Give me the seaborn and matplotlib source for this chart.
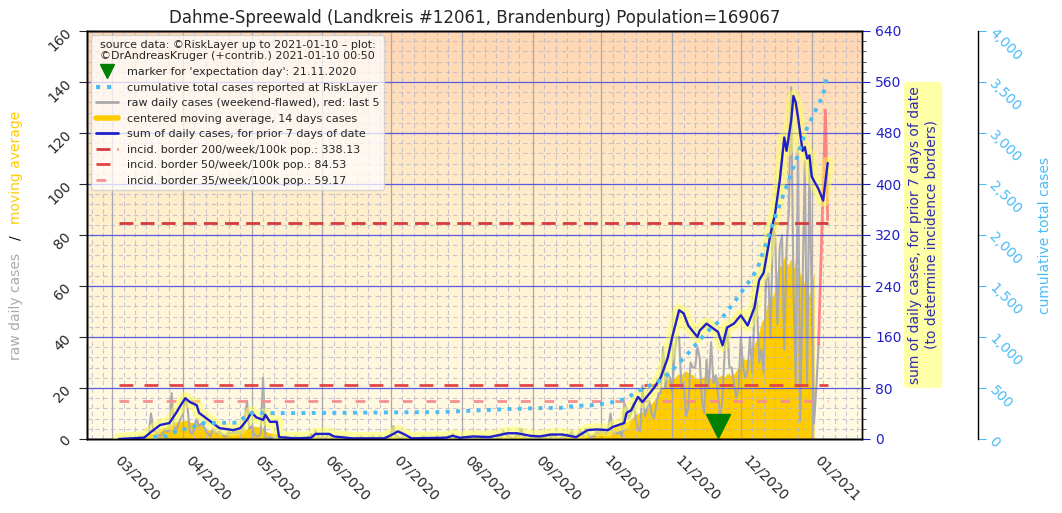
import numpy as np
import pandas as pd
import matplotlib
matplotlib.use("Agg")
import matplotlib.pyplot as plt
import matplotlib.dates as mdates
import matplotlib.ticker as mticker
import matplotlib.patheffects as pe
from matplotlib.lines import Line2D
from matplotlib.colors import LinearSegmentedColormap
import seaborn as sns

sns.set_style("white")
plt.rcParams['font.family'] = ['DejaVu Sans']

# ---------------- data ----------------
TITLE = "Dahme-Spreewald (Landkreis #12061, Brandenburg) Population=169067"
LEGEND_TITLE = ("source data: ©RiskLayer up to 2021-01-10 – plot:\n"
                "©DrAndreasKruger (+contrib.) 2021-01-10 00:50")

first_day = "2020-03-04"
raw_daily = [
    0, 0, 0, 0, 0,
    0, 0, 0, 0, 1, 0, 1,
    1, 2, 10, 3, 3, 2, 1,
    2, 4, 3, 3, 18, 5, 3,
    6, 8, 10, 16, 12, 3, 2,
    4, 8, 5, 6, 5, 3, 2,
    1, 4, 3, 2, 3, 2, 1,
    1, 3, 2, 3, 2, 3, 2,
    3, 8, 15, 4, 5, 2, 1,
    1, 2, 24, 1, 0, 1, 0,
    1, 0, 0, 0, 0, 1, 0,
    0, 0, 1, 0, 0, 0, 0,
    0, 1, 2, 0, 3, 1, 0,
    1, 0, 1, 2, 0, 0, 0,
    0, 0, 1, 0, 0, 0, 0,
    0, 0, 0, 1, 0, 0, 0,
    0, 1, 0, 0, 1, 0, 0,
    0, 1, 2, 5, 1, 1, 0,
    1, 0, 0, 0, 0, 0, 0,
    0, 0, 1, 0, 0, 0, 0,
    0, 1, 0, 0, 1, 0, 0,
    1, 2, 0, 1, 0, 0, 0,
    0, 1, 0, 0, 1, 0, 0,
    0, 1, 0, 1, 0, 0, 0,
    1, 0, 3, 2, 1, 1, 0,
    0, 2, 1, 4, 1, 0, 0,
    0, 1, 0, 1, 0, 1, 0,
    1, 2, 0, 2, 1, 0, 0,
    1, 0, 2, 1, 3, 0, 0,
    2, 3, 1, 4, 2, 1, 1,
    1, 3, 2, 4, 3, 2, 4,
    10, 2, 3, 2, 3, 1, 14,
    12, 8, 10, 14, 8, 4, 3,
    21, 9, 12, 15, 10, 8, 13,
    18, 18, 36, 20, 26, 24, 18,
    34, 40, 40, 20, 22, 9, 12,
    30, 28, 28, 36, 32, 15, 10,
    31, 20, 38, 22, 25, 18, 8,
    16, 36, 44, 28, 28, 22, 16,
    20, 40, 28, 24, 27, 40, 26,
    50, 54, 30, 35, 26, 62, 65,
    40, 83, 80, 45, 75, 80, 35,
    75, 90, 138, 60, 22, 114, 7,
    60, 109, 22, 108, 55, 6, 20,
    37, 68, 98, 129, 86,
]

sum7_dates = [
    "2020-03-04", "2020-03-15", "2020-03-18", "2020-03-22", "2020-03-26", "2020-03-29",
    "2020-03-31", "2020-04-02", "2020-04-04", "2020-04-07", "2020-04-08", "2020-04-11",
    "2020-04-14", "2020-04-17", "2020-04-23", "2020-04-26", "2020-04-29", "2020-05-01",
    "2020-05-03", "2020-05-06", "2020-05-07", "2020-05-09", "2020-05-12", "2020-05-13",
    "2020-05-20", "2020-05-27", "2020-05-29", "2020-06-04", "2020-06-06", "2020-06-14",
    "2020-06-28", "2020-07-01", "2020-07-04", "2020-07-07", "2020-07-10", "2020-07-25",
    "2020-07-28", "2020-07-31", "2020-08-06", "2020-08-13", "2020-08-21", "2020-08-25",
    "2020-08-31", "2020-09-04", "2020-09-09", "2020-09-14", "2020-09-20", "2020-09-25",
    "2020-09-29", "2020-10-04", "2020-10-06", "2020-10-11", "2020-10-12", "2020-10-14",
    "2020-10-17", "2020-10-19", "2020-10-24", "2020-10-27", "2020-10-30", "2020-11-01",
    "2020-11-04", "2020-11-06", "2020-11-08", "2020-11-12", "2020-11-13", "2020-11-16",
    "2020-11-21", "2020-11-23", "2020-11-25", "2020-11-28", "2020-12-01", "2020-12-04",
    "2020-12-07", "2020-12-09", "2020-12-11", "2020-12-14", "2020-12-16", "2020-12-18",
    "2020-12-20", "2020-12-21", "2020-12-23", "2020-12-24", "2020-12-25", "2020-12-26",
    "2020-12-28", "2020-12-29", "2020-12-30", "2020-12-31", "2021-01-01", "2021-01-02",
    "2021-01-04", "2021-01-06", "2021-01-08",
]
sum7_values = [
    0, 2, 11, 22, 25, 41,
    53, 64, 58, 53, 41, 33,
    25, 17, 14, 17, 30, 42,
    34, 30, 38, 27, 27, 3,
    1, 2, 8, 8, 4, 1,
    1, 6, 12, 7, 1, 2,
    5, 2, 4, 3, 9, 9,
    5, 4, 7, 7, 3, 14,
    15, 14, 19, 25, 41, 45,
    66, 58, 80, 97, 127, 160,
    202, 197, 178, 160, 170, 181,
    168, 147, 175, 181, 194, 178,
    207, 249, 261, 322, 354, 405,
    473, 452, 499, 538, 528, 505,
    452, 458, 440, 445, 412, 405,
    392, 374, 433,
]

cum_dates = [
    "2020-03-19", "2020-03-25", "2020-03-30", "2020-04-05", "2020-04-08", "2020-04-25",
    "2020-04-29", "2020-05-01", "2020-05-22", "2020-07-22", "2020-08-21", "2020-09-04",
    "2020-09-13", "2020-09-19", "2020-09-27", "2020-10-04", "2020-10-11", "2020-10-18",
    "2020-10-27", "2020-11-01", "2020-11-08", "2020-11-16", "2020-11-22", "2020-11-28",
    "2020-12-04", "2020-12-08", "2020-12-15", "2020-12-23", "2020-12-25", "2020-12-30",
    "2021-01-02", "2021-01-04", "2021-01-06", "2021-01-07", "2021-01-08",
]
cum_values = [
    20, 29, 88, 108, 156, 160,
    235, 254, 254, 264, 293, 303,
    305, 323, 332, 352, 390, 479,
    577, 675, 841, 1047, 1164, 1340,
    1525, 1653, 2112, 2601, 2728, 3051,
    3188, 3285, 3364, 3491, 3569,
]

border_values = [338.13, 84.53, 59.17]
border_labels = ["incid. border 200/week/100k pop.: 338.13",
                 "incid. border 50/week/100k pop.: 84.53",
                 "incid. border 35/week/100k pop.: 59.17"]

expectation_day = "2020-11-21"
expectation_level = 20   # on the 7-day-sum axis

# ---------------- frames ----------------
dates = pd.date_range(first_day, periods=len(raw_daily), freq="D")
df = pd.DataFrame({"date": dates, "raw": raw_daily})
df["avg14"] = df["raw"].rolling(14, center=True).mean()
s7 = pd.DataFrame({"date": pd.to_datetime(sum7_dates), "sum7": sum7_values})
cum = pd.DataFrame({"date": pd.to_datetime(cum_dates), "cum": cum_values})

# colors
C_GRAY = "#aaaaaa"
C_RED = "#ff7777"
C_GOLD = "#ffcc00"
C_BLUE = "#1f1fcc"
C_CUM = "#4cbcf5"
C_AX2 = "#2121c8"

fig = plt.figure(figsize=(10.62, 5.13), dpi=100)
ax = fig.add_axes([87/1062, 1-439/513, 775/1062, 408/513])
ax2 = ax.twinx()
ax3 = ax.twinx()
ax3.spines['right'].set_position(('axes', 1.15))

# background gradient
cmap = LinearSegmentedColormap.from_list("bg", ["#fffbe6", "#fff2d0", "#ffd6b2"])
grad = np.linspace(0, 1, 256).reshape(-1, 1)
ax.imshow(grad, extent=[0, 1, 0, 1], transform=ax.transAxes, origin="lower",
          aspect="auto", cmap=cmap, zorder=0)

# gold moving average
ax.fill_between(df["date"], 0, df["avg14"], color=C_GOLD, lw=0, zorder=1)
# raw daily
n = len(df)
sns.lineplot(x=df["date"].iloc[:n-4], y=df["raw"].iloc[:n-4], ax=ax, color=C_GRAY,
             lw=1.5, zorder=2, legend=False)
sns.lineplot(x=df["date"].iloc[n-5:], y=df["raw"].iloc[n-5:], ax=ax, color=C_RED,
             lw=2, alpha=0.9, zorder=2, legend=False)

# 7-day sum with glow
sns.lineplot(data=s7, x="date", y="sum7", ax=ax2, color=C_BLUE, lw=1.7, zorder=4,
             legend=False,
             path_effects=[pe.Stroke(linewidth=9, foreground="#ffff55", alpha=0.5),
                           pe.Normal()])
# incidence borders
ax2.hlines(border_values[0], dates[0], dates[-1], colors="#d63a3a", lw=2,
           linestyles=(0, (5, 2.6)), zorder=3)
ax2.hlines(border_values[1], dates[0], dates[-1], colors="#e04545", lw=2,
           linestyles=(0, (5, 4)), zorder=3)
ax2.hlines(border_values[2], dates[0], dates[-1], colors="#f59090", lw=2,
           linestyles=(0, (3.5, 5)), zorder=3)
# expectation day marker
ax2.plot([pd.Timestamp(expectation_day)], [expectation_level], marker="v", color="green",
         markersize=17, ls="none", zorder=6)

# cumulative
sns.lineplot(data=cum, x="date", y="cum", ax=ax3, color=C_CUM, lw=2.8, ls=":",
             zorder=3, legend=False)

# ---------------- axes ----------------
x0 = dates[0] - pd.Timedelta(days=14)
x1 = dates[-1] + pd.Timedelta(days=15)
for a in (ax, ax2, ax3):
    a.set_xlim(x0, x1)
    a.set_xlabel("")
    a.set_ylabel("")
ax.set_ylim(0, 160)
ax2.set_ylim(0, 640)
ax3.set_ylim(0, 4000)

minor_days = mdates.DayLocator(bymonthday=[6, 11, 16, 21, 26])
ax.xaxis.set_major_locator(mdates.MonthLocator())
ax.xaxis.set_major_formatter(mdates.DateFormatter("%m/%Y"))
ax.xaxis.set_minor_locator(minor_days)
ax.tick_params(axis="x", which="major", length=6, labelsize=10, pad=4)
ax.tick_params(axis="x", which="minor", length=3)
for lab in ax.get_xticklabels():
    lab.set_rotation(-45)
    lab.set_ha("left")

ax.yaxis.set_major_locator(mticker.MultipleLocator(20))
ax.tick_params(axis="y", labelrotation=45, labelsize=10, length=6)

ax2.yaxis.set_major_locator(mticker.MultipleLocator(80))
ax2.yaxis.set_minor_locator(mticker.MultipleLocator(16))
ax2.tick_params(axis="y", which="major", colors=C_AX2, labelsize=10, length=6)
ax2.tick_params(axis="y", which="minor", color="#333333", length=3)

ax3.yaxis.set_major_locator(mticker.MultipleLocator(500))
ax3.yaxis.set_major_formatter(mticker.FuncFormatter(lambda v, p: f"{int(v):,}"))
ax3.tick_params(axis="y", colors=C_CUM, labelsize=10, length=6)
for lab in ax3.get_yticklabels():
    lab.set_rotation(-45)
    lab.set_rotation_mode("anchor")
    lab.set_ha("left")
    lab.set_va("center")

for a in (ax, ax2, ax3):
    for s in a.spines.values():
        s.set_color("black")
        s.set_linewidth(1.0)

# grid (on ax2 so it lies over the moving-average area)
ax2.xaxis.set_visible(True)
ax2.tick_params(axis="x", which="both", length=0, labelbottom=False, labeltop=False)
ax2.set_axisbelow(True)
ax2.grid(True, which="major", axis="x", color="#a8a8b0", lw=0.9)
ax2.grid(True, which="major", axis="y", color="#5a5ae0", lw=0.9)
ax2.grid(True, which="minor", axis="both", color="#b8b4cc", lw=0.8, alpha=0.75,
         ls=(0, (4, 3)))
ax.grid(False)
ax3.grid(False)

ax.set_title(TITLE, fontsize=12)

# axis labels
fig.text(0.015, 1-306/513, "raw daily cases", rotation=90, color=C_GRAY, fontsize=10,
         ha="center", va="center")
fig.text(0.015, 1-238/513, "/", rotation=90, color="black", fontsize=10,
         ha="center", va="center")
fig.text(0.015, 1-167/513, "moving average", rotation=90, color=C_GOLD, fontsize=10,
         ha="center", va="center")
fig.text(923/1062, 1-235/513,
         "sum of daily cases, for prior 7 days of date\n(to determine incidence borders)",
         rotation=90, color="#2e2eb0", fontsize=10, ha="center", va="center",
         multialignment="center",
         bbox=dict(boxstyle="round,pad=0.3", fc="#ffff99", ec="none", alpha=0.85))
fig.text(1045/1062, 1-236/513, "cumulative total cases", rotation=90, color=C_CUM,
         fontsize=10, ha="center", va="center")

# legend
handles = [
    Line2D([], [], marker="v", color="green", ls="none", markersize=10),
    Line2D([], [], color=C_CUM, ls=":", lw=3),
    Line2D([], [], color=C_GRAY, lw=2),
    Line2D([], [], color=C_GOLD, lw=4),
    Line2D([], [], color=C_BLUE, lw=2),
    Line2D([], [], color="#d63a3a", lw=2, ls=(0, (5, 2.6))),
    Line2D([], [], color="#e04545", lw=2, ls=(0, (5, 4))),
    Line2D([], [], color="#f59090", lw=2, ls=(0, (3.5, 5))),
]
labels = [
    f"marker for 'expectation day': {pd.Timestamp(expectation_day):%d.%m.%Y}",
    "cumulative total cases reported at RiskLayer",
    "raw daily cases (weekend-flawed), red: last 5",
    "centered moving average, 14 days cases",
    "sum of daily cases, for prior 7 days of date",
] + border_labels
leg = ax3.legend(handles, labels, loc="upper left", fontsize=8, title=LEGEND_TITLE,
                 title_fontsize=8, labelspacing=0.5, framealpha=0.75,
                 facecolor="white", edgecolor="#cccccc", borderaxespad=0.4)
leg.set_zorder(20)

fig.savefig("out.png", dpi=100)
